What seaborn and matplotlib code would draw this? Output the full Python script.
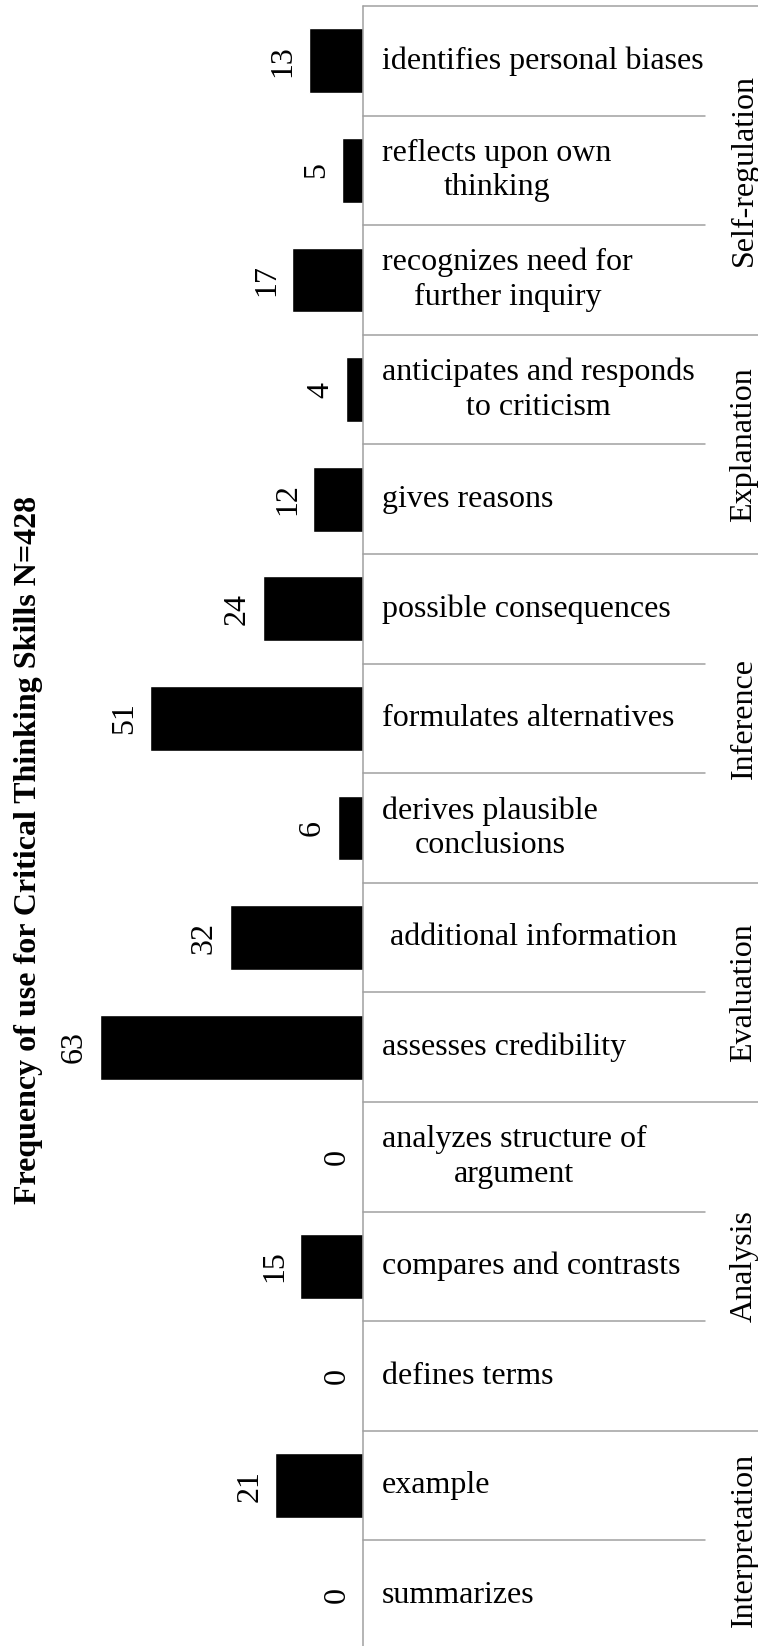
import matplotlib
matplotlib.use("Agg")
import matplotlib.pyplot as plt
import seaborn as sns
import pandas as pd

# ---- data ----
groups = ["Self-regulation", "Explanation", "Inference", "Evaluation", "Analysis", "Interpretation"]
group_sizes = [3, 2, 3, 2, 3, 2]
skills = [
    "identifies personal biases",
    "reflects upon own\nthinking",
    "recognizes need for\nfurther inquiry",
    "anticipates and responds\nto criticism",
    "gives reasons",
    "possible consequences",
    "formulates alternatives",
    "derives plausible\nconclusions",
    " additional information",
    "assesses credibility",
    "analyzes structure of\nargument",
    "compares and contrasts",
    "defines terms",
    "example",
    "summarizes",
]
counts = [13, 5, 17, 4, 12, 24, 51, 6, 32, 63, 0, 15, 0, 21, 0]
title = "Frequency of use for Critical Thinking Skills N=428"

W, H = 758, 1646
FONT = "Liberation Serif"
FS = 23

sns.set_theme(style="white")
plt.rcParams["font.family"] = [FONT, "DejaVu Serif"]

fig = plt.figure(figsize=(W / 100, H / 100), dpi=100)
ax = fig.add_axes([0, 0, 1, 1])

df = pd.DataFrame({"skill": skills, "count": counts})
sns.barplot(data=df, x="count", y="skill", order=skills, orient="h",
            color="black", width=0.59, saturation=1, ax=ax)

# layout: value 0 at x=363 px, 4.17 px per unit; rows of 109.6 px starting at y=6 px
x0, scale = 363, 4.17
row_h, top = 109.6, 6
ax.set_xlim(x0 / scale, (x0 - W) / scale)
ax.set_ylim(-0.5 + (H - top) / row_h, -0.5 - top / row_h)
ax.set_axis_off()

grey = "#a0a0a0"
ytr = ax.get_yaxis_transform()
xl = x0 / W
# vertical line
ax.plot([xl, xl], [-0.5, len(skills) + 1], color=grey, lw=1.1, transform=ytr, clip_on=False)
# horizontal lines
boundaries = [0]
for s in group_sizes:
    boundaries.append(boundaries[-1] + s)
for k in range(len(skills)):
    xr = 1.0 if k in boundaries else 705 / W
    ax.plot([xl, xr], [k - 0.5, k - 0.5], color=grey, lw=1.1, transform=ytr, clip_on=False)

# row labels
for i, s in enumerate(skills):
    ax.text(382 / W, i, s, transform=ytr, ha="left", va="center", multialignment="center",
            fontsize=FS, family=FONT, color="black", linespacing=1.25)

# group labels
for g, a, b in zip(groups, boundaries[:-1], boundaries[1:]):
    ax.text(744 / W, (a + b - 1) / 2, g, transform=ytr, rotation=90, ha="center", va="center",
            fontsize=FS, family=FONT, color="black")

# value labels
for i, v in enumerate(counts):
    ax.annotate(str(v), xy=(v, i), xytext=(-18.5, 0), textcoords="offset points",
                rotation=90, ha="center", va="center", fontsize=FS, family=FONT, color="black")

fig.text(28.5 / W, 1 - 850 / H, title, rotation=90, ha="center", va="center",
         fontsize=23, fontweight="bold", family=FONT, color="black")

fig.savefig("out.png", dpi=100, facecolor="white")
